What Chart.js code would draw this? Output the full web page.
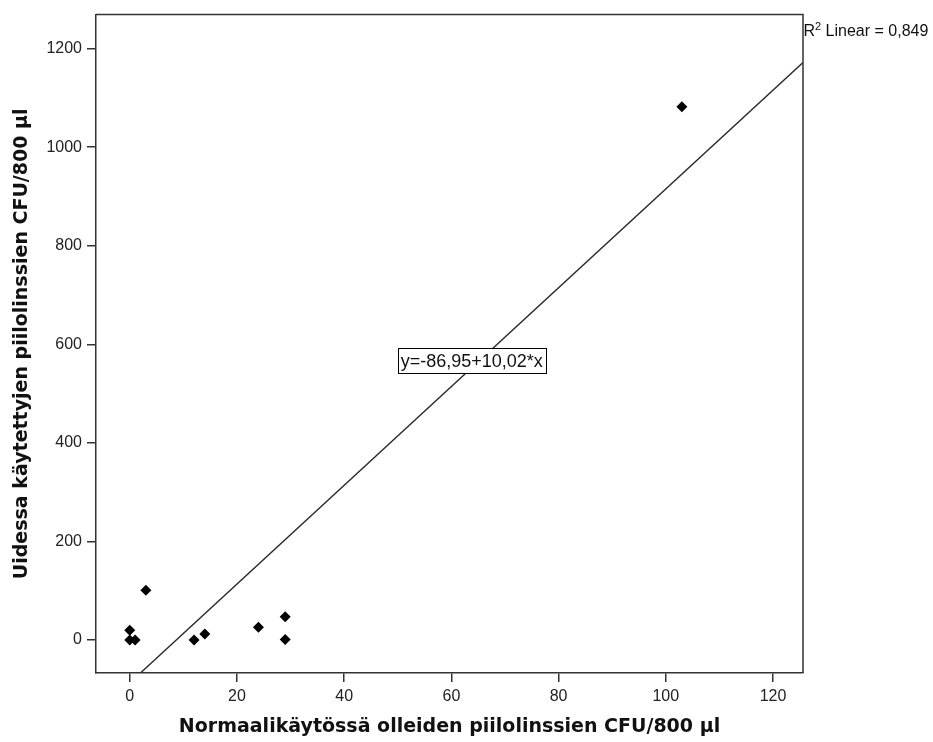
<!DOCTYPE html>
<html>
<head>
<meta charset="utf-8">
<script src="https://cdn.jsdelivr.net/npm/chart.js@4.4.0/dist/chart.umd.min.js"></script>
<style>
html,body{margin:0;padding:0;background:#fff;}
#wrap{width:933px;height:742px;position:relative;}
</style>
</head>
<body>
<div id="wrap"><canvas id="c" width="933" height="742"></canvas></div>
<script>
// Data
const xValues = [0, 0, 1, 3, 12, 14, 24, 29, 29, 103];
const yValues = [20, 0, 0, 101, 0, 12, 26, 47, 1, 1082];
const fitIntercept = -86.95;
const fitSlope = 10.02;
const fitXRange = [-6.3, 125.6];
const fitLabel = 'y=-86,95+10,02*x';
const fitLabelPos = [63.8, 567];
const r2Text = ' Linear = 0,849';
const xTitle = 'Normaalikäytössä olleiden piilolinssien CFU/800 µl';
const yTitle = 'Uidessa käytettyjen piilolinssien CFU/800 µl';
const xRange = [-6.3, 125.6];
const yRange = [-67, 1269];

const points = xValues.map((x, i) => ({x: x, y: yValues[i]}));
const fitPoints = fitXRange.map(x => ({x: x, y: fitIntercept + fitSlope * x}));

const FONT = "'Liberation Sans', Arial, sans-serif";
const TITLE_FONT = "'DejaVu Sans', Verdana, sans-serif";

const framePlugin = {
  id: 'frame',
  afterDraw(chart) {
    const {ctx, chartArea: a, scales} = chart;
    ctx.save();
    ctx.strokeStyle = '#333';
    ctx.lineWidth = 1.5;
    ctx.beginPath();
    ctx.moveTo(a.left, a.top);
    ctx.lineTo(a.right, a.top);
    ctx.lineTo(a.right, a.bottom);
    ctx.stroke();
    // fit label box
    const px = scales.x.getPixelForValue(fitLabelPos[0]);
    const py = scales.y.getPixelForValue(fitLabelPos[1]);
    ctx.font = '18px ' + FONT;
    const w = ctx.measureText(fitLabel).width + 6;
    const h = 25;
    ctx.fillStyle = '#fff';
    ctx.fillRect(px - w / 2, py - h / 2, w, h);
    ctx.strokeStyle = '#000';
    ctx.lineWidth = 1;
    ctx.strokeRect(Math.round(px - w / 2) + 0.5, Math.round(py - h / 2) + 0.5, Math.round(w), h);
    ctx.fillStyle = '#111';
    ctx.textAlign = 'center';
    ctx.textBaseline = 'middle';
    ctx.fillText(fitLabel, px, py + 1);
    // R2 label
    ctx.textAlign = 'left';
    ctx.textBaseline = 'alphabetic';
    ctx.font = '16px ' + FONT;
    let x0 = a.right + 0.5;
    const by = a.top + 21;
    ctx.fillText('R', x0, by);
    x0 += ctx.measureText('R').width;
    ctx.font = '11px ' + FONT;
    ctx.fillText('2', x0, by - 6);
    x0 += ctx.measureText('2').width;
    ctx.font = '16px ' + FONT;
    ctx.fillText(r2Text, x0, by);
    ctx.restore();
  }
};

new Chart(document.getElementById('c'), {
  type: 'scatter',
  data: {
    datasets: [
      {
        type: 'line',
        data: fitPoints,
        borderColor: '#2a2a2a',
        borderWidth: 1.4,
        pointRadius: 0,
        fill: false,
        order: 2
      },
      {
        data: points,
        pointStyle: 'rectRot',
        pointRadius: 5.5,
        backgroundColor: '#000',
        borderColor: '#000',
        borderWidth: 0,
        order: 1
      }
    ]
  },
  options: {
    responsive: false,
    animation: false,
    layout: {padding: {top: 14, right: 130, bottom: 0, left: 0}},
    plugins: {legend: {display: false}, tooltip: {enabled: false}},
    scales: {
      x: {
        type: 'linear',
        min: xRange[0], max: xRange[1],
        afterBuildTicks(s) { s.ticks = s.ticks.filter(t => t.value % 20 === 0); },
        afterFit(s) { s.height = 69; },
        ticks: {stepSize: 20, includeBounds: false, color: '#222', font: {size: 16, family: FONT}, padding: 5, maxRotation: 0,
                callback: v => String(v)},
        grid: {display: true, drawOnChartArea: false, drawTicks: true, tickLength: 9, color: '#333', lineWidth: 1.5},
        border: {display: true, color: '#333', width: 1.5},
        title: {display: true, text: xTitle, color: '#111', font: {size: 19, weight: 'bold', family: TITLE_FONT}, padding: {top: 0, bottom: 4}}
      },
      y: {
        type: 'linear',
        min: yRange[0], max: yRange[1],
        afterBuildTicks(s) { s.ticks = s.ticks.filter(t => t.value % 200 === 0); },
        afterFit(s) { s.width = 96; },
        ticks: {stepSize: 200, includeBounds: false, color: '#222', font: {size: 16, family: FONT}, padding: 5,
                callback: v => String(v)},
        grid: {display: true, drawOnChartArea: false, drawTicks: true, tickLength: 9, color: '#333', lineWidth: 1.5},
        border: {display: true, color: '#333', width: 1.5},
        title: {display: true, text: yTitle, color: '#111', font: {size: 19, weight: 'bold', family: TITLE_FONT}, padding: {top: 11, bottom: 0}}
      }
    }
  },
  plugins: [framePlugin]
});
</script>
</body>
</html>
